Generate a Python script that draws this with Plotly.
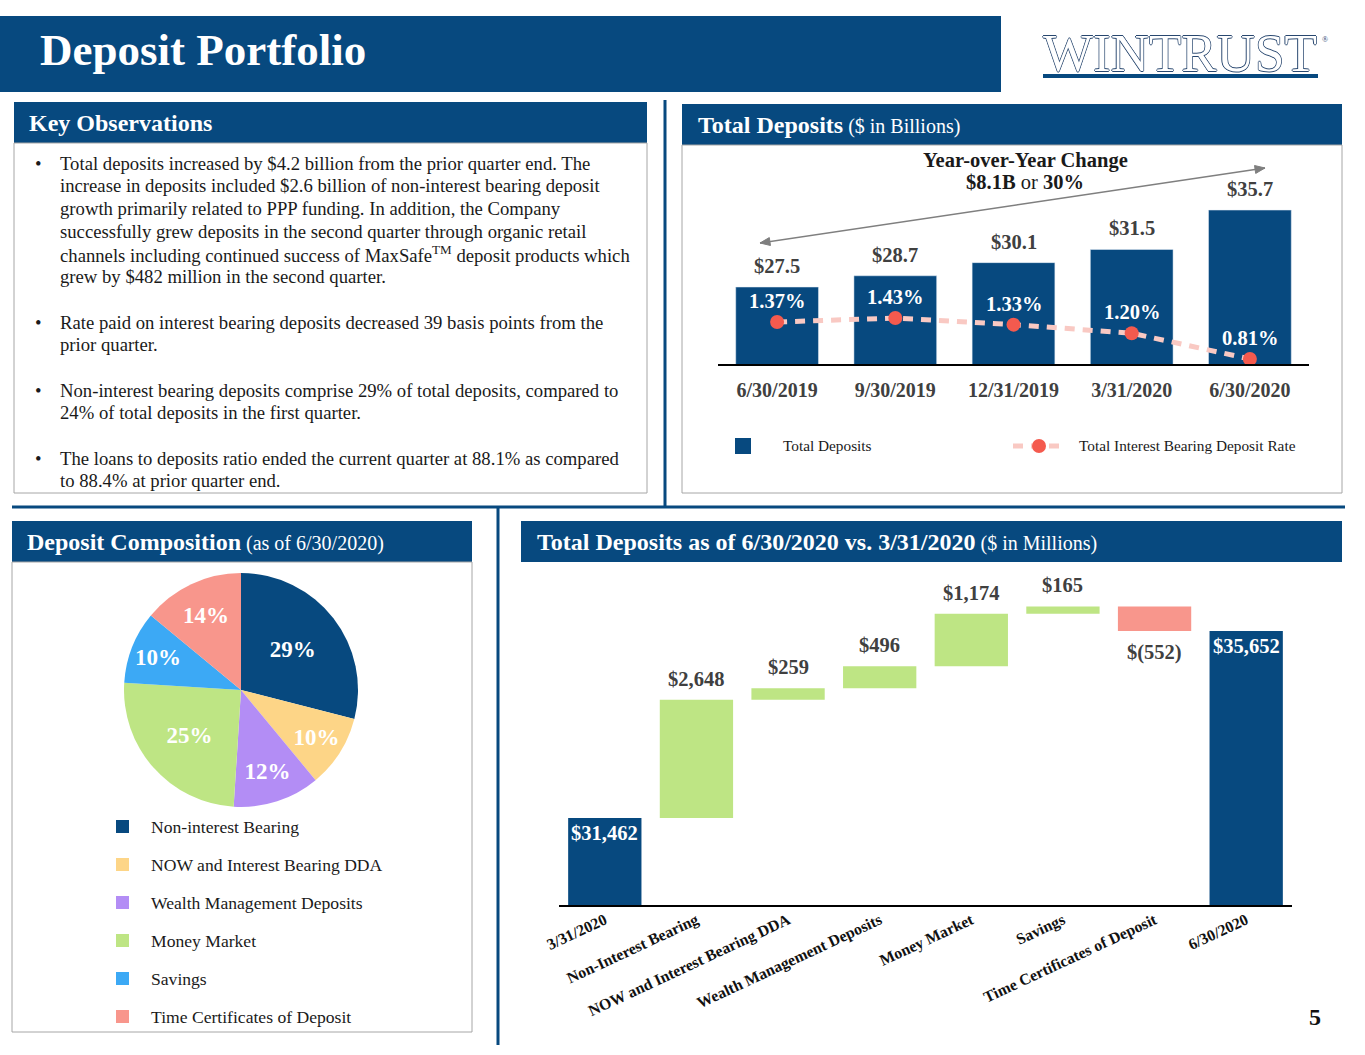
import math
import plotly.graph_objects as go

W, H = 1365, 1055
def X(p): return p / W
def Y(p): return 1 - p / H

BLUE = "#07497F"
GREEN = "#BEE584"
SALMON = "#F8968C"
SERIF = "Liberation Serif"
DARK = "#404040"

# ---------------- data ----------------
quarters = ["6/30/2019", "9/30/2019", "12/31/2019", "3/31/2020", "6/30/2020"]
total_deposits_bn = [27.5, 28.7, 30.1, 31.5, 35.7]
ib_rate_pct = [1.37, 1.43, 1.33, 1.20, 0.81]

comp_labels = ["Non-interest Bearing", "NOW and Interest Bearing DDA",
               "Wealth Management Deposits", "Money Market", "Savings",
               "Time Certificates of Deposit"]
comp_pct = [29, 10, 12, 25, 10, 14]
comp_colors = [BLUE, "#FDD587", "#B38DF5", GREEN, "#3CA9F5", SALMON]

wf_categories = ["3/31/2020", "Non-Interest Bearing", "NOW and Interest Bearing DDA",
                 "Wealth Management Deposits", "Money Market", "Savings",
                 "Time Certificates of Deposit", "6/30/2020"]
wf_values = [31462, 2648, 259, 496, 1174, 165, -552, 35652]
wf_measure = ["absolute", "relative", "relative", "relative", "relative",
              "relative", "relative", "total"]

observations = [
    ["Total deposits increased by $4.2 billion from the prior quarter end. The",
     "increase in deposits included $2.6 billion of non-interest bearing deposit",
     "growth primarily related to PPP funding. In addition, the Company",
     "successfully grew deposits in the second quarter through organic retail",
     "channels including continued success of MaxSafe<sup>TM</sup> deposit products which",
     "grew by $482 million in the second quarter."],
    ["Rate paid on interest bearing deposits decreased 39 basis points from the",
     "prior quarter."],
    ["Non-interest bearing deposits comprise 29% of total deposits, compared to",
     "24% of total deposits in the first quarter."],
    ["The loans to deposits ratio ended the current quarter at 88.1% as compared",
     "to 88.4% at prior quarter end."],
]

def money(v):
    return f"${v:,}" if v >= 0 else f"$({-v:,})"

fig = go.Figure()

# ---------------- top-right: total deposits bars + rate line ----------------
fig.add_trace(go.Bar(x=quarters, y=total_deposits_bn, marker_color=BLUE,
                     xaxis="x", yaxis="y", showlegend=False, hoverinfo="skip"))
fig.add_trace(go.Scatter(x=quarters, y=ib_rate_pct, mode="lines+markers",
                         line=dict(color="#F9C9C3", width=5, dash="10px,8px"),
                         marker=dict(color="#F45A4E", size=14),
                         xaxis="x", yaxis="y2", showlegend=False, hoverinfo="skip"))

# ---------------- pie ----------------
fig.add_trace(go.Pie(values=comp_pct, labels=comp_labels, sort=False,
                     direction="clockwise", rotation=0,
                     marker=dict(colors=comp_colors, line=dict(width=0)),
                     text=[f"{v}%" for v in comp_pct], textinfo="text",
                     textposition="inside", insidetextorientation="horizontal",
                     textfont=dict(family=SERIF, size=23, color="white", weight="bold"),
                     domain=dict(x=[X(124), X(358)], y=[Y(807), Y(573)]),
                     showlegend=False, hoverinfo="skip"))

# ---------------- waterfall ----------------
fig.add_trace(go.Waterfall(x=wf_categories, y=wf_values, measure=wf_measure,
                           increasing=dict(marker=dict(color=GREEN)),
                           decreasing=dict(marker=dict(color=SALMON)),
                           totals=dict(marker=dict(color=BLUE)),
                           connector=dict(visible=False),
                           xaxis="x3", yaxis="y3", showlegend=False, hoverinfo="skip"))

ann = []
def txt(x, y, text, size, color="#1A1A1A", bold=False, xanchor="left", yanchor="middle", **kw):
    ann.append(dict(x=X(x), y=Y(y), xref="paper", yref="paper", text=text, showarrow=False,
                    xanchor=xanchor, yanchor=yanchor,
                    font=dict(family=SERIF, size=size, color=color,
                              weight="bold" if bold else "normal"), **kw))

LBL = 20.5
# bar value labels
for q, v in zip(quarters, total_deposits_bn):
    ann.append(dict(x=q, y=v, xref="x", yref="y", text=f"${v}", showarrow=False,
                    yshift=21, font=dict(family=SERIF, size=LBL, color=DARK, weight="bold")))
for q, r in zip(quarters, ib_rate_pct):
    ann.append(dict(x=q, y=r, xref="x", yref="y2", text=f"{r:.2f}%", showarrow=False,
                    yshift=21, font=dict(family=SERIF, size=LBL, color="white", weight="bold")))

# waterfall labels
cum = 0
for c, v, m in zip(wf_categories, wf_values, wf_measure):
    if m == "absolute":
        cum = v
        ann.append(dict(x=c, y=v, xref="x3", yref="y3", text=money(v), showarrow=False,
                        yshift=-15, font=dict(family=SERIF, size=LBL, color="white", weight="bold")))
    elif m == "total":
        ann.append(dict(x=c, y=cum, xref="x3", yref="y3", text=money(cum), showarrow=False,
                        yshift=-15, font=dict(family=SERIF, size=LBL, color="white", weight="bold")))
    else:
        cum += v
        shift = 21 if v >= 0 else -21
        ann.append(dict(x=c, y=cum, xref="x3", yref="y3", text=money(v), showarrow=False,
                        yshift=shift, font=dict(family=SERIF, size=LBL, color=DARK, weight="bold")))

txt(1025, 160, "<b>Year-over-Year Change</b>", 20.5, xanchor="center")
txt(1025, 182, "<b>$8.1B</b> or <b>30%</b>", 20.5, xanchor="center")

# title & logo
txt(38, 50, "Deposit Portfolio", 45, color="white", bold=True)
ann.append(dict(x=X(1180), y=Y(53), xref="paper", yref="paper", text="WINTRUST",
                showarrow=False, xanchor="center", yanchor="middle",
                font=dict(family=SERIF, size=53, color="white",
                          shadow="0.8px 0 0 #28476F, -0.8px 0 0 #28476F, 0 0.8px 0 #28476F, 0 -0.8px 0 #28476F")))
txt(1320, 40, "®", 8, color="#1F3F6E")

# panel headers
HS = "<span style='font-size:20px'>"
txt(27, 123, "Key Observations", 24, color="white", bold=True)
txt(696, 125, "<b>Total Deposits</b>" + HS + " ($ in Billions)</span>", 24, color="white")
txt(25, 542, "<b>Deposit Composition</b>" + HS + " (as of 6/30/2020)</span>", 24, color="white")
txt(535, 542, "<b>Total Deposits as of 6/30/2020 vs. 3/31/2020</b>" + HS + " ($ in Millions)</span>", 24, color="white")

# observations
line_y = [[163, 185, 208, 231, 254, 277], [322, 345], [390, 413], [459, 481]]
for para, ys in zip(observations, line_y):
    txt(33, ys[0], "•", 18.7)
    for line, yy in zip(para, ys):
        txt(58, yy, line, 18.7)

# top legend text
txt(781, 446, "Total Deposits", 15.3)
txt(1077, 446, "Total Interest Bearing Deposit Rate", 15.3)

# pie legend
pie_leg_y = [827, 865, 903, 941, 979, 1017]
for lab, yy in zip(comp_labels, pie_leg_y):
    txt(149, yy, lab, 17.6)

# page number
txt(1315, 1017, "5", 24, color="#111111", bold=True, xanchor="center")

shapes = []
def rect(x0, y0, x1, y1, fill=None, line=None, lw=1):
    shapes.append(dict(type="rect", xref="paper", yref="paper", x0=X(x0), x1=X(x1),
                       y0=Y(y1), y1=Y(y0), fillcolor=fill or "rgba(0,0,0,0)",
                       line=dict(color=line or "rgba(0,0,0,0)", width=lw if line else 0),
                       layer="below"))
def seg(x0, y0, x1, y1, color, w, dash=None):
    shapes.append(dict(type="line", xref="paper", yref="paper", x0=X(x0), x1=X(x1),
                       y0=Y(y0), y1=Y(y1), line=dict(color=color, width=w, dash=dash)))

rect(0, 16, 1001, 92, fill=BLUE)
rect(1043, 74, 1318, 78, fill=BLUE)
rect(14, 102, 647, 143, fill=BLUE)
rect(14, 143, 647, 493, line="#A6A6A6")
rect(682, 104, 1342, 145, fill=BLUE)
rect(682, 145, 1342, 493, line="#A6A6A6")
rect(12, 521, 472, 562, fill=BLUE)
rect(12, 562, 472, 1032, line="#A6A6A6")
rect(521, 521, 1342, 562, fill=BLUE)
seg(665, 100, 665, 506, BLUE, 3)
seg(12, 507, 1345, 507, BLUE, 3)
seg(498, 507, 498, 1045, BLUE, 3)

# YoY double-headed arrow (decoration)
AC = "#7F7F7F"
ax0, ay0, ax1, ay1 = 760, 243, 1265, 168
seg(ax0, ay0, ax1, ay1, AC, 1.5)
L = math.hypot(ax1 - ax0, ay1 - ay0)
ux, uy = (ax1 - ax0) / L, (ay1 - ay0) / L
nx, ny = -uy, ux
for tx, ty, s in [(ax1, ay1, 1), (ax0, ay0, -1)]:
    bx, by = tx - s * 10 * ux, ty - s * 10 * uy
    pts = [(tx, ty), (bx + 4 * nx, by + 4 * ny), (bx - 4 * nx, by - 4 * ny)]
    path = "M " + " L ".join(f"{X(px):.5f},{Y(py):.5f}" for px, py in pts) + " Z"
    shapes.append(dict(type="path", xref="paper", yref="paper", path=path,
                       fillcolor=AC, line=dict(color=AC, width=1)))

# top legend markers
rect(735, 438, 751, 454, fill=BLUE)
seg(1013, 446, 1065, 446, "#F9C9C3", 5, dash="10px,8px")
shapes.append(dict(type="circle", xref="paper", yref="paper", x0=X(1032), x1=X(1046),
                   y0=Y(453), y1=Y(439), fillcolor="#F45A4E", line=dict(width=0)))
# pie legend squares
for c, yy in zip(comp_colors, pie_leg_y):
    rect(116, yy - 7, 129, yy + 6, fill=c)

fig.update_layout(
    width=W, height=H, margin=dict(l=0, r=0, t=0, b=0, pad=0, autoexpand=False),
    paper_bgcolor="white", plot_bgcolor="rgba(0,0,0,0)",
    bargap=0.3, waterfallgap=0.2,
    xaxis=dict(domain=[X(718), X(1309)], type="category", showgrid=False, automargin=False,
               showline=True, linecolor="black", linewidth=2, ticks="",
               tickfont=dict(family=SERIF, size=20, color=DARK, weight="bold"),
               ticklabelstandoff=7, anchor="y"),
    yaxis=dict(domain=[Y(364), Y(150)], range=[19.3, 42.1], visible=False, automargin=False),
    yaxis2=dict(overlaying="y", range=[0.7336, 3.976], visible=False, automargin=False),
    xaxis3=dict(domain=[X(559), X(1292)], type="category", showgrid=False, automargin=False,
                showline=True, linecolor="black", linewidth=2, ticks="",
                tickangle=-25, anchor="y3", ticklabelstandoff=-2,
                tickfont=dict(family=SERIF, size=15.8, color="#111111", weight="bold")),
    yaxis3=dict(domain=[Y(905), Y(575)], range=[29513, 36907], visible=False, automargin=False),
    annotations=ann, shapes=shapes,
)

fig.write_html("out.html", config={"displayModeBar": False},
               post_script="document.body.style.margin='0';document.body.style.overflow='hidden';")
